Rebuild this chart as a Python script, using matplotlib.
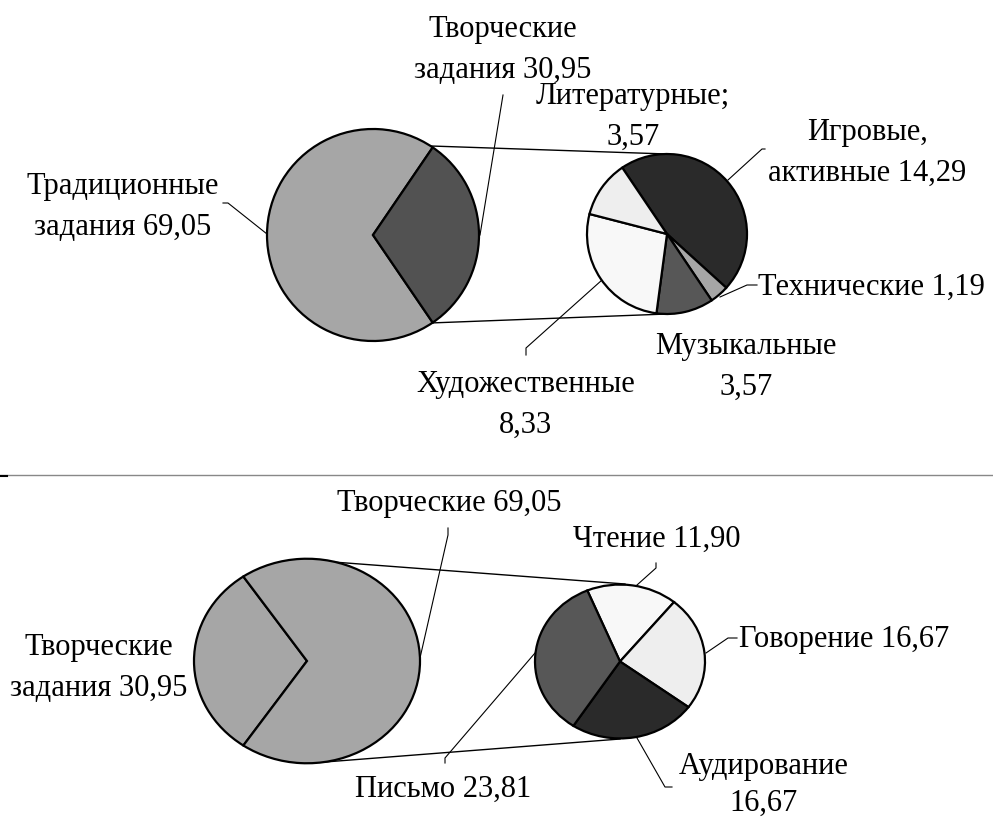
import numpy as np
import matplotlib.pyplot as plt

plt.rcParams['font.family'] = ['Liberation Serif', 'DejaVu Serif']

# top chart: main split and the breakdown of "творческие задания"
main_top = [69.05, 30.95]
main_top_colors = ['#a6a6a6', '#525252']
sub_top_names = ['Игровые', 'Технические', 'Музыкальные', 'Художественные', 'Литературные']
sub_top = [14.29, 1.19, 3.57, 8.33, 3.57]
sub_top_colors = ['#2a2a2a', '#a6a6a6', '#575757', '#f8f8f8', '#eeeeee']

# bottom chart
main_bot = [30.95, 69.05]
main_bot_colors = ['#a6a6a6', '#a6a6a6']
sub_bot_names = ['Чтение', 'Говорение', 'Аудирование', 'Письмо']
sub_bot = [11.90, 16.67, 16.67, 23.81]
sub_bot_colors = ['#f8f8f8', '#eeeeee', '#2a2a2a', '#575757']


def num(v):
    return f'{v:.2f}'.replace('.', ',')


W, H = 993, 819
fig = plt.figure(figsize=(W / 100, H / 100), dpi=100)

# background axes in pixel coords (y downward) for text and lines
ax = fig.add_axes([0, 0, 1, 1])
ax.set_xlim(0, W)
ax.set_ylim(H, 0)
ax.axis('off')

wp = dict(edgecolor='black', linewidth=1.6)

# top pies, circles, pixel units with y up
axt = fig.add_axes([0, 0, 1, 1])
axt.pie(main_top, colors=main_top_colors, startangle=main_top[1] / 100 * 180,
        center=(373, H - 235), radius=106, wedgeprops=wp)
axt.pie(sub_top, colors=sub_top_colors, startangle=124, counterclock=False,
        center=(667, H - 234), radius=80, wedgeprops=wp)
axt.set_aspect('auto')
axt.set_xlim(0, W)
axt.set_ylim(0, H)
axt.axis('off')

# bottom pies are drawn squashed (ellipses)
sy = 0.905
axb = fig.add_axes([0, 0, 1, 1])
axb.pie(main_bot, colors=main_bot_colors, startangle=180 - main_bot[0] / 100 * 180,
        center=(307, (H - 661) / sy), radius=113, wedgeprops=wp)
axb.pie(sub_bot, colors=sub_bot_colors, startangle=112.6, counterclock=False,
        center=(620, (H - 661.5) / sy), radius=85, wedgeprops=wp)
axb.set_aspect('auto')
axb.set_xlim(0, W)
axb.set_ylim(0, H / sy)
axb.axis('off')

# connector lines between main and secondary pies
lw = 1.0
ax.plot([431, 667], [146, 154], color='black', lw=lw)
ax.plot([430, 667], [323, 314], color='black', lw=lw)
ax.plot([320, 625], [561, 584], color='black', lw=lw)
ax.plot([325, 620], [762, 739], color='black', lw=lw)

# separator
ax.plot([0, W], [475, 475], color='#888888', lw=1.0)
ax.plot([0, 7], [476, 476], color='black', lw=1.5)

# leader lines
ll = 0.8
leaders = [
    ([503, 480], [95, 235]),
    ([223, 228, 267], [203, 203, 234]),
    ([765, 762, 728], [149, 149, 180]),
    ([757, 747, 720], [285, 285, 297]),
    ([526, 526, 602], [355, 348, 280]),
    ([448, 448, 420], [528, 535, 658]),
    ([656, 656, 637], [563, 568, 585]),
    ([737, 728, 706], [638, 638, 653]),
    ([637, 665, 672], [738, 787, 787]),
    ([445, 445, 535], [763, 758, 653]),
]
for xs, ys in leaders:
    ax.plot(xs, ys, color='black', lw=ll)

fs = 22
kw = dict(fontsize=fs, linespacing=1.55, ha='center', va='center')
ax.text(503, 50, 'Творческие\nзадания ' + num(main_top[1]), **kw)
ax.text(123, 207, 'Традиционные\nзадания ' + num(main_top[0]), **kw)
ax.text(633, 117, sub_top_names[4] + ';\n' + num(sub_top[4]), **kw)
ax.text(867, 153, sub_top_names[0] + ',\nактивные ' + num(sub_top[0]), **kw)
ax.text(758, 287, sub_top_names[1] + ' ' + num(sub_top[1]),
        fontsize=fs, ha='left', va='center')
ax.text(746, 367, sub_top_names[2] + '\n' + num(sub_top[2]), **kw)
ax.text(526, 405, sub_top_names[3] + '\n' + num(sub_top[3]), **kw)

ax.text(449, 504, 'Творческие ' + num(main_bot[1]), **kw)
ax.text(99, 668, 'Творческие\nзадания ' + num(main_bot[0]),
        fontsize=fs, linespacing=1.5, ha='center', va='center')
ax.text(657, 539, sub_bot_names[0] + ' ' + num(sub_bot[0]), **kw)
ax.text(739, 639, sub_bot_names[1] + ' ' + num(sub_bot[1]),
        fontsize=fs, ha='left', va='center')
ax.text(764, 785, sub_bot_names[2] + '\n' + num(sub_bot[2]),
        fontsize=fs, linespacing=1.35, ha='center', va='center')
ax.text(443, 789, sub_bot_names[3] + ' ' + num(sub_bot[3]), **kw)

fig.savefig('out.png', dpi=100)
